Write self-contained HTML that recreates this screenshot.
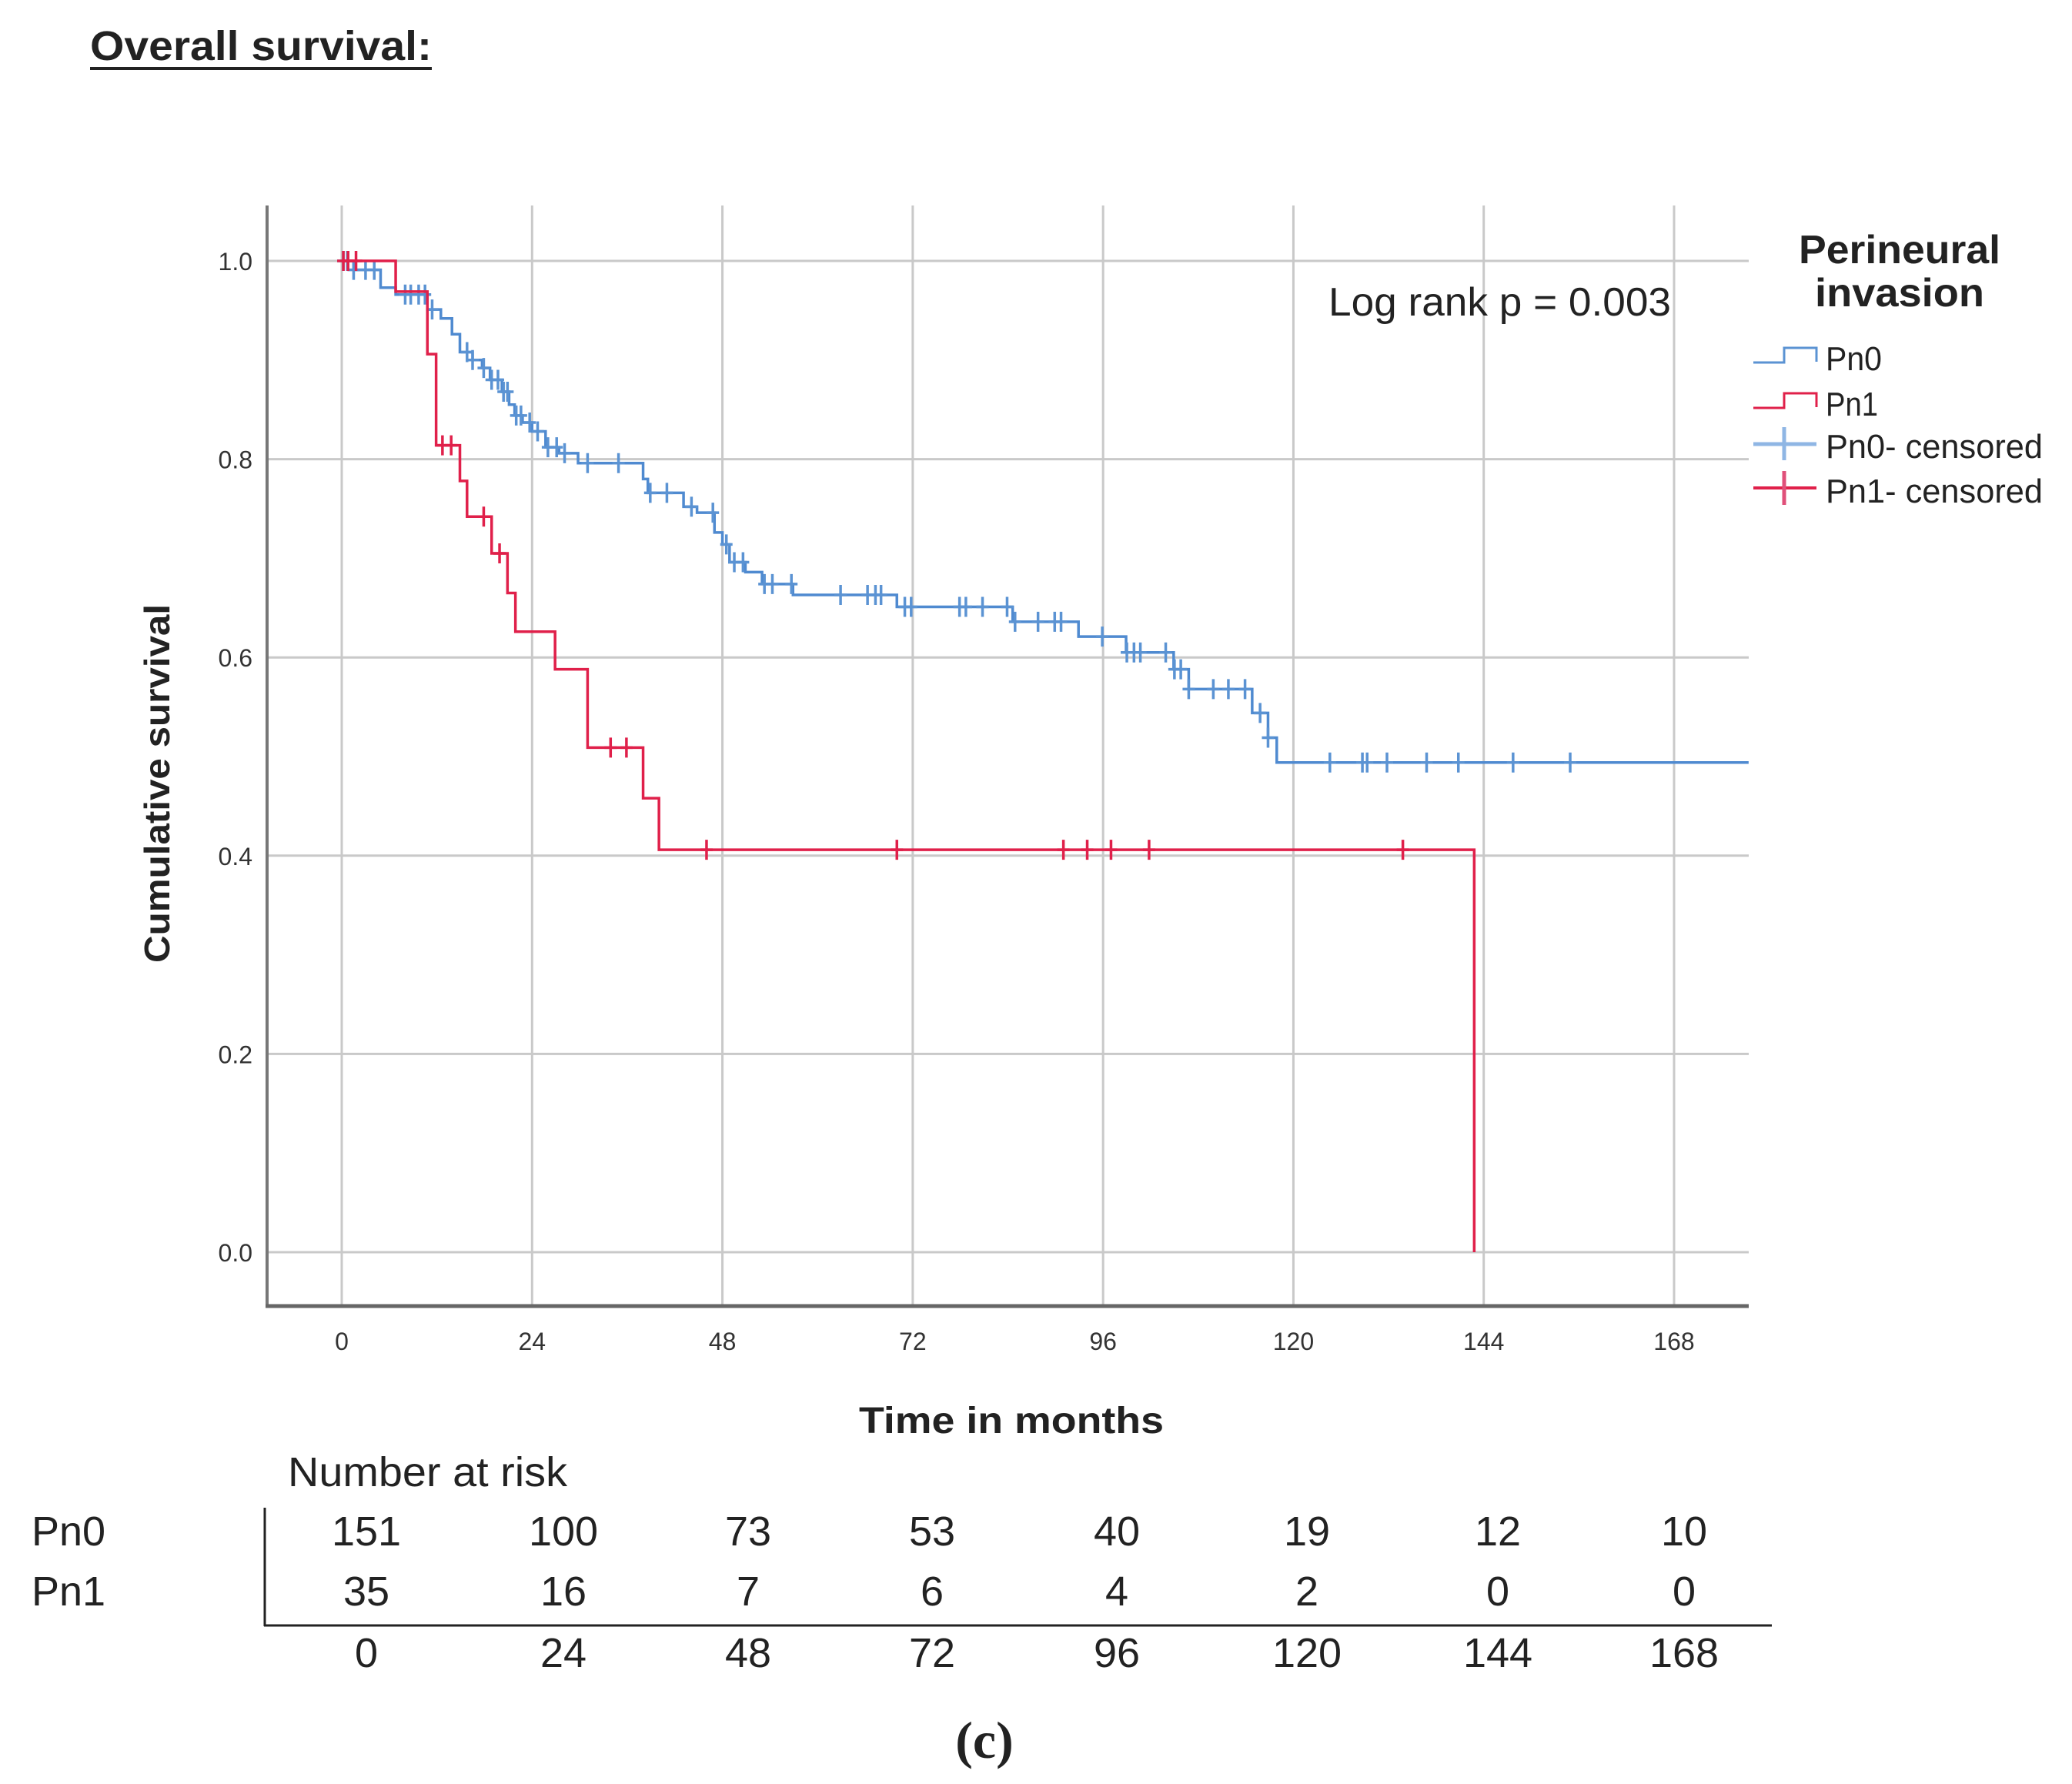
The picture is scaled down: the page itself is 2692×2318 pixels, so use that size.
<!DOCTYPE html>
<html><head><meta charset="utf-8"><style>
html,body{margin:0;padding:0;background:#fff;}
svg{display:block;font-family:"Liberation Sans",sans-serif;}
</style></head><body>
<svg id="chart" width="2692" height="2318" viewBox="0 0 2692 2318" xmlns="http://www.w3.org/2000/svg">
<text x="117" y="78" font-size="54" font-weight="bold" textLength="444" lengthAdjust="spacingAndGlyphs" fill="#222">Overall survival:</text>
<line x1="117" y1="89" x2="561" y2="89" stroke="#222" stroke-width="4"/>
<g id="grid"></g>
<g id="axes"></g>
<g id="series"></g>
<text transform="translate(220,1018) rotate(-90)" text-anchor="middle" font-size="46" font-weight="bold" textLength="466" lengthAdjust="spacingAndGlyphs" fill="#222">Cumulative survival</text>
<text x="1314" y="1862" text-anchor="middle" font-size="48" font-weight="bold" textLength="396" lengthAdjust="spacingAndGlyphs" fill="#222">Time in months</text>
<text x="1726" y="410" font-size="52" textLength="445" lengthAdjust="spacingAndGlyphs" fill="#222">Log rank p = 0.003</text>
<g>
<text x="2468" y="342" text-anchor="middle" font-size="52" font-weight="bold" textLength="262" lengthAdjust="spacingAndGlyphs" fill="#222">Perineural</text>
<text x="2468" y="398" text-anchor="middle" font-size="52" font-weight="bold" textLength="220" lengthAdjust="spacingAndGlyphs" fill="#222">invasion</text>
<g>
<polyline points="2278,471 2318,471 2318,452 2360,452 2360,470" fill="none" stroke="#5b93d3" stroke-width="3"/>
<text x="2372" y="481" font-size="44" textLength="73" lengthAdjust="spacingAndGlyphs" fill="#222">Pn0</text></g>
<g>
<polyline points="2278,530 2318,530 2318,511 2360,511 2360,529" fill="none" stroke="#e0204a" stroke-width="3"/>
<text x="2372" y="540" font-size="44" textLength="68" lengthAdjust="spacingAndGlyphs" fill="#222">Pn1</text></g>
<g>
<line x1="2278" y1="577" x2="2360" y2="577" stroke="#8fb6e4" stroke-width="5"/>
<line x1="2318" y1="555" x2="2318" y2="598" stroke="#8fb6e4" stroke-width="5"/>
<text x="2372" y="595" font-size="44" textLength="282" lengthAdjust="spacingAndGlyphs" fill="#222">Pn0- censored</text></g>
<g>
<line x1="2278" y1="634" x2="2360" y2="634" stroke="#e0204a" stroke-width="4"/>
<line x1="2318" y1="612" x2="2318" y2="656" stroke="#e0507a" stroke-width="5"/>
<text x="2372" y="653" font-size="44" textLength="282" lengthAdjust="spacingAndGlyphs" fill="#222">Pn1- censored</text></g>
</g>
<g id="risk">
<text x="374" y="1931" font-size="54" textLength="363" lengthAdjust="spacingAndGlyphs" fill="#222">Number at risk</text>
<text x="41" y="2008" font-size="54" fill="#222">Pn0</text>
<text x="41" y="2086" font-size="54" fill="#222">Pn1</text>
<line x1="344" y1="1959" x2="344" y2="2113" stroke="#222" stroke-width="3"/>
<line x1="343" y1="2112" x2="2302" y2="2112" stroke="#222" stroke-width="3"/>
</g>
<text x="1279" y="2284" text-anchor="middle" font-family="Liberation Serif, serif" font-size="68" font-weight="bold" fill="#222">(c)</text>
</svg>
<script>
const xTicks=[0,24,48,72,96,120,144,168];
const yTicks=[0,0.2,0.4,0.6,0.8,1.0];
const yTickLabels=["0.0","0.2","0.4","0.6","0.8","1.0"];
const pn0Times=[0,1.5,4.9,6.8,10.8,12.5,13.9,14.9,16.5,17.7,18.7,20.2,21.1,21.8,22.8,24,25.7,27.4,29.8,38,38.6,43.1,44.8,47,48,48.9,50.9,53,56.9,70,84.6,92.9,98.9,104.9,106.8,114.8,116.8,117.9];
const pn0Surv=[1.0,0.991,0.973,0.966,0.951,0.942,0.926,0.908,0.90,0.892,0.88,0.868,0.855,0.844,0.837,0.828,0.812,0.806,0.796,0.78,0.766,0.752,0.746,0.726,0.714,0.696,0.686,0.674,0.663,0.651,0.636,0.621,0.605,0.588,0.568,0.544,0.519,0.494];
const pn0End=177.4;
const pn0Censored=[0.2,0.7,1.5,3,4.1,8,8.7,9.7,10.5,11.4,15.8,16.5,17.9,18.9,19.7,20.4,20.9,22,22.6,23.7,24.7,26,27.1,28.1,31,34.9,38.9,41,44.1,46.8,48.5,49.5,50.6,53.3,54.3,56.7,62.9,66.3,67.3,68,71,71.8,77.9,78.7,80.8,83.9,84.9,87.8,89.9,90.7,95.9,99,99.9,100.7,103.9,105,105.8,106.8,109.9,111.8,113.9,115.8,116.8,124.6,128.7,129.3,131.8,136.8,140.8,147.7,154.9];
const pn1Times=[0,6.8,10.8,11.9,14.9,15.8,18.9,20.9,21.9,26.9,31,38,40,142.8];
const pn1Surv=[1.0,0.969,0.906,0.814,0.778,0.742,0.705,0.665,0.626,0.588,0.509,0.458,0.406,0.0];
const pn1Censored=[0.2,0.8,1.8,12.7,13.8,17.9,19.9,33.9,35.9,46,70,91,94,97,101.8,133.8];
const riskPn0=[151,100,73,53,40,19,12,10];
const riskPn1=[35,16,7,6,4,2,0,0];
const riskTimes=[0,24,48,72,96,120,144,168];

const NS="http://www.w3.org/2000/svg";
const X0=444, XPM=(2175-444)/168, Y1=339, YH=1288;
const PL=347, PR=2272, PT=267, PB=1697;
function sx(m){return X0+m*XPM;}
function sy(v){return Y1+(1-v)*YH;}
function mk(tag,attrs,parent){const e=document.createElementNS(NS,tag);for(const k in attrs)e.setAttribute(k,attrs[k]);parent.appendChild(e);return e;}
const grid=document.getElementById('grid'),axes=document.getElementById('axes'),series=document.getElementById('series'),risk=document.getElementById('risk');

yTicks.forEach((v,i)=>{
  const l=mk('line',{x1:PL,x2:PR,y1:sy(v),y2:sy(v),stroke:'#c9c9c9','stroke-width':3},grid);
  
  
  const t=mk('text',{x:328,y:sy(v)+12,'text-anchor':'end','font-size':32,fill:'#333'},axes);
  t.textContent=yTickLabels[i];
  
  
});
xTicks.forEach(m=>{
  const l=mk('line',{x1:sx(m),x2:sx(m),y1:PT,y2:PB,stroke:'#c9c9c9','stroke-width':3},grid);
  
  
  const t=mk('text',{x:sx(m),y:1754,'text-anchor':'middle','font-size':32,fill:'#333'},axes);
  t.textContent=m;
  
  
});
const ya=mk('line',{x1:PL,x2:PL,y1:PT,y2:PB+2,stroke:'#777','stroke-width':4},axes);


const xa=mk('line',{x1:PL-2,x2:PR,y1:PB,y2:PB,stroke:'#666','stroke-width':5},axes);



function stepPath(times,surv,end){
  let d='M'+sx(times[0])+','+sy(surv[0]);
  for(let i=1;i<times.length;i++){d+=' H'+sx(times[i])+' V'+sy(surv[i]);}
  if(end!=null)d+=' H'+sx(end);
  return d;
}
function survAt(times,surv,t){let s=surv[0];for(let i=0;i<times.length;i++){if(times[i]<=t)s=surv[i];}return s;}

const p0=mk('path',{d:stepPath(pn0Times,pn0Surv,pn0End),fill:'none',stroke:'#4f8ad0','stroke-width':3.5},series);


pn0Censored.forEach(t=>{
  const y=sy(survAt(pn0Times,pn0Surv,t)),x=sx(t);
  const g=mk('path',{d:`M${x},${y-13} V${y+13} M${x-8},${y} H${x+8}`,stroke:'#5b93d3','stroke-width':3.5,fill:'none'},series);
  
  
});
const p1=mk('path',{d:stepPath(pn1Times,pn1Surv,null),fill:'none',stroke:'#e0204a','stroke-width':3.5},series);


pn1Censored.forEach(t=>{
  const y=sy(survAt(pn1Times,pn1Surv,t)),x=sx(t);
  const g=mk('path',{d:`M${x},${y-13} V${y+13} M${x-8},${y} H${x+8}`,stroke:'#e0204a','stroke-width':3.5,fill:'none'},series);
  
  
});

const colX=[476,732,972,1211,1451,1698,1946,2188];
riskTimes.forEach((m,i)=>{
  const a=mk('text',{x:colX[i],y:2008,'text-anchor':'middle','font-size':54,fill:'#222'},risk);
  a.textContent=riskPn0[i];
  
  
  const b=mk('text',{x:colX[i],y:2086,'text-anchor':'middle','font-size':54,fill:'#222'},risk);
  b.textContent=riskPn1[i];
  
  
  const c=mk('text',{x:colX[i],y:2166,'text-anchor':'middle','font-size':54,fill:'#222'},risk);
  c.textContent=m;
  
  
});
</script>
</body></html>
